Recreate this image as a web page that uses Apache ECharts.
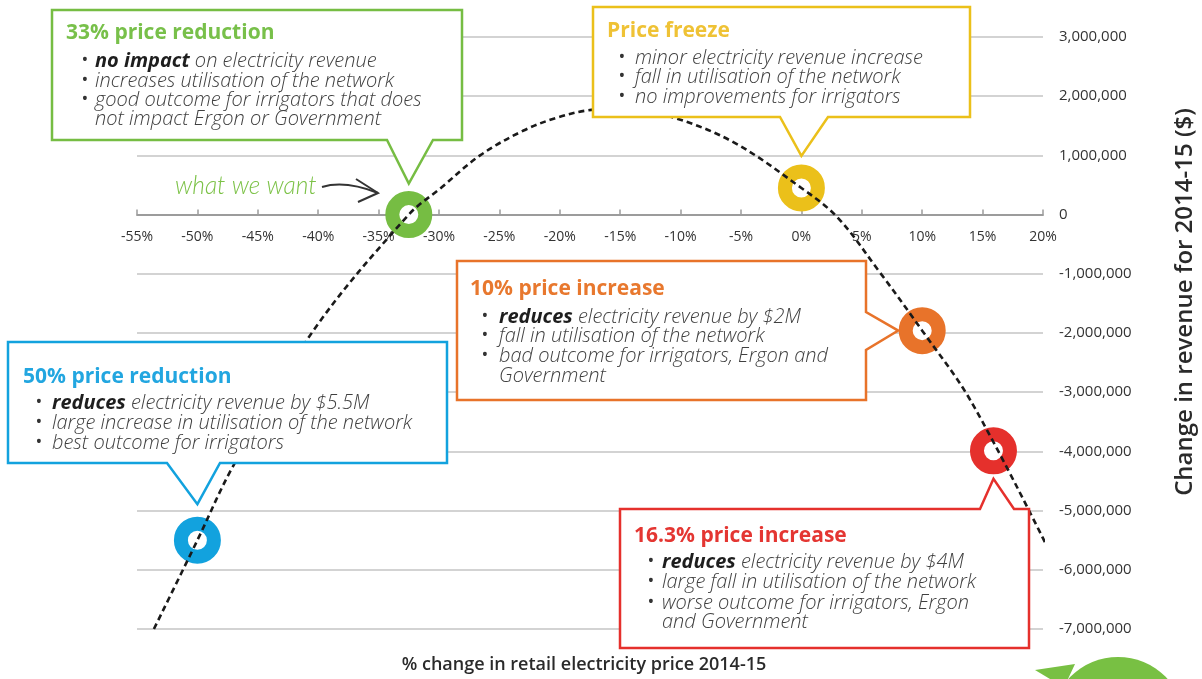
<!DOCTYPE html>
<html>
<head>
<meta charset="utf-8">
<script src="https://cdn.jsdelivr.net/npm/echarts@6/dist/echarts.min.js"></script>
<style>
html,body{margin:0;padding:0;background:#fff;}
#chart{width:1202px;height:679px;}
</style>
</head>
<body>
<div id="chart"></div>
<script>
// ---------- DATA ----------
const curveX = [-53.6, -50, -47.1, -40.4, -32.5, -29.9, -26.6, -23.0, -20.2, -17.7, -14.6, -10.6, -5.6, 0, 3.0, 6.4, 10, 14.0, 20.3];
const curveY = [-7000000, -5500000, -4270000, -1960000, 0, 440000, 1000000, 1420000, 1640000, 1760000, 1790000, 1640000, 1220000, 450000, -50000, -950000, -1960000, -3140000, -5590000];

const pointNames = ['33% price reduction', 'Price freeze', '10% price increase', '50% price reduction', '16.3% price increase'];
const pointX = [-32.5, 0, 10, -50, 15.9];
const pointY = [0, 450000, -1960000, -5500000, -3990000];

// callout text: [boldPart, rest, hasBullet]
const calloutLines = [
  [['no impact', ' on electricity revenue', true], ['', 'increases utilisation of the network', true], ['', 'good outcome for irrigators that does', true], ['', 'not impact Ergon or Government', false]],
  [['', 'minor electricity revenue increase', true], ['', 'fall in utilisation of the network', true], ['', 'no improvements for irrigators', true]],
  [['reduces', ' electricity revenue by $2M', true], ['', 'fall in utilisation of the network', true], ['', 'bad outcome for irrigators, Ergon and', true], ['', 'Government', false]],
  [['reduces', ' electricity revenue by $5.5M', true], ['', 'large increase in utilisation of the network', true], ['', 'best outcome for irrigators', true]],
  [['reduces', ' electricity revenue by $4M', true], ['', 'large fall in utilisation of the network', true], ['', 'worse outcome for irrigators, Ergon', true], ['', 'and Government', false]]
];

const xAxisTitle = '% change in retail electricity price 2014-15';
const yAxisTitle = 'Change in revenue for 2014-15 ($)';
const annotationText = 'what we want';

// ---------- STYLE / LAYOUT ----------
const ringColors = ['#76bd43', '#ebc01a', '#e8732a', '#12a2de', '#e5302c'];
const titleColors = ['#78c04a', '#efc235', '#e8782e', '#22a6e0', '#e43632'];
const layout = [
  {box:[52,10,462,140], tail:'bottom', base:[387,433], off:-31, title:[66,33], bulletX:85, textX:95, lineY:[61,81,100,119]},
  {box:[593,7,970,117], tail:'bottom', base:[780,828], off:-32, title:[607,31], bulletX:622, textX:635, lineY:[58,77,97]},
  {box:[457,261,866,400], tail:'right', base:[312,350], off:-24, title:[470,289], bulletX:485, textX:499, lineY:[317,336,356,376]},
  {box:[8,342,447,463], tail:'bottom', base:[167,220], off:-36, title:[23,377], bulletX:39, textX:52, lineY:[403,423,443]},
  {box:[620,509,1029,648], tail:'top', base:[980,1014], off:28, title:[634,536], bulletX:651, textX:662, lineY:[562,582,603,622]}
];

const FONT = '"Open Sans", "Noto Sans", sans-serif';
const BODY = 20;

const chart = echarts.init(document.getElementById('chart'), null, {renderer:'canvas'});

const option = {
  animation: false,
  backgroundColor: '#ffffff',
  grid: {left:137, right:159, top:37, bottom:50, containLabel:false},
  xAxis: {
    type:'value', min:-55, max:20, interval:5,
    axisLine:{onZero:false, lineStyle:{color:'#9c9c9c', width:2}},
    axisTick:{show:true, inside:true, length:5, lineStyle:{color:'#9c9c9c', width:1.5}},
    axisLabel:{formatter:v=>v+'%', color:'#333', fontSize:14, fontFamily:FONT, margin:15},
    splitLine:{show:false}
  },
  yAxis: {
    type:'value', position:'right', min:-7000000, max:3000000, interval:1000000,
    axisLine:{show:false}, axisTick:{show:false},
    axisLabel:{formatter:v=>v.toLocaleString('en-US'), color:'#333', fontSize:15, fontFamily:FONT, margin:16},
    splitLine:{show:true, lineStyle:{color:'#c4c4c4', width:1.5}}
  },
  series: [
    {
      type:'scatter', z:2,
      symbol:'circle', symbolSize:33,
      data: pointX.map((x,i)=>({name:pointNames[i], value:[x, pointY[i]], itemStyle:{color:'#fff', borderColor:ringColors[i], borderWidth:14, opacity:1}})),
      itemStyle:{opacity:1},
      emphasis:{disabled:true}
    },
    {
      type:'line', z:3, smooth:0.35, symbol:'none', clip:false,
      data: curveX.map((x,i)=>[x, curveY[i]]),
      lineStyle:{color:'#1a1a1a', width:2.6, type:[6,4]}
    }
  ]
};
chart.setOption(option);

// place the x axis on the zero line of the y scale
const zeroY = chart.convertToPixel({yAxisIndex:0}, 0);
const bottomY = chart.convertToPixel({yAxisIndex:0}, -7000000);
chart.setOption({xAxis:{offset: zeroY - bottomY}});

// ---------- ANNOTATIONS ----------
const graphics = [];
layout.forEach((L,i)=>{
  const [l,t,r,b] = L.box;
  const p = chart.convertToPixel({gridIndex:0}, [pointX[i], pointY[i]]);
  let pts;
  if (L.tail === 'bottom') {
    const tip = [p[0], p[1] + L.off];
    pts = [[l,t],[r,t],[r,b],[L.base[1],b],tip,[L.base[0],b],[l,b]];
  } else if (L.tail === 'top') {
    const tip = [p[0], p[1] + L.off];
    pts = [[l,t],[L.base[0],t],tip,[L.base[1],t],[r,t],[r,b],[l,b]];
  } else {
    const tip = [p[0] + L.off, p[1]];
    pts = [[l,t],[r,t],[r,L.base[0]],tip,[r,L.base[1]],[r,b],[l,b]];
  }
  graphics.push({type:'polygon', z:100, shape:{points:pts}, style:{fill:'#fff', stroke:ringColors[i], lineWidth:2.5, lineJoin:'miter'}});
  graphics.push({type:'text', z:101, x:L.title[0], y:L.title[1], style:{text:pointNames[i], fill:titleColors[i], font:'bold 21px '+FONT, verticalAlign:'middle', align:'left'}});
  calloutLines[i].forEach((ln,j)=>{
    const y = L.lineY[j];
    if (ln[2]) graphics.push({type:'text', z:101, x:L.bulletX, y:y, style:{text:'•', fill:'#333', font:'18px '+FONT, verticalAlign:'middle', align:'center'}});
    const txt = (ln[0] ? '{b|'+ln[0]+'}' : '') + '{i|'+ln[1]+'}';
    graphics.push({type:'text', z:101, x:L.textX, y:y, style:{
      text:txt, verticalAlign:'middle', align:'left', font:'italic 300 '+BODY+'px '+FONT, fill:'#4a4a4a',
      rich:{
        b:{fontStyle:'italic', fontWeight:'bold', fontSize:BODY, fontFamily:FONT, fill:'#1e1e1e', color:'#1e1e1e'},
        i:{fontStyle:'italic', fontWeight:300, fontSize:BODY, fontFamily:FONT, fill:'#404040', color:'#404040'}
      }
    }});
  });
});

// axis titles
graphics.push({type:'text', z:50, x:584, y:665, style:{text:xAxisTitle, fill:'#2a2a2a', font:'600 18px '+FONT, align:'center', verticalAlign:'middle'}});
graphics.push({type:'text', z:50, x:1185, y:302, rotation:Math.PI/2, style:{text:yAxisTitle, fill:'#2a2a2a', font:'600 24px '+FONT, align:'center', verticalAlign:'middle'}});

// "what we want" note + arrow
graphics.push({type:'text', z:50, x:175, y:186, style:{text:annotationText, fill:'#7cc247', font:'italic 300 24.5px Lato, sans-serif', align:'left', verticalAlign:'middle'}});
graphics.push({type:'bezierCurve', z:50, shape:{x1:322, y1:187, x2:378, y2:193, cpx1:345, cpy1:180}, style:{stroke:'#333', lineWidth:2, fill:null}});
graphics.push({type:'polyline', z:50, shape:{points:[[356,179],[378,193],[358,202]]}, style:{stroke:'#333', lineWidth:2, fill:null}});

// green bubble bottom right
graphics.push({type:'circle', z:50, shape:{cx:1118, cy:724, r:67}, style:{fill:'#78c043'}});
graphics.push({type:'polygon', z:50, shape:{points:[[1035,670],[1075,664],[1068,679],[1050,679]]}, style:{fill:'#78c043'}});

chart.setOption({graphic: graphics});
</script>
</body>
</html>
